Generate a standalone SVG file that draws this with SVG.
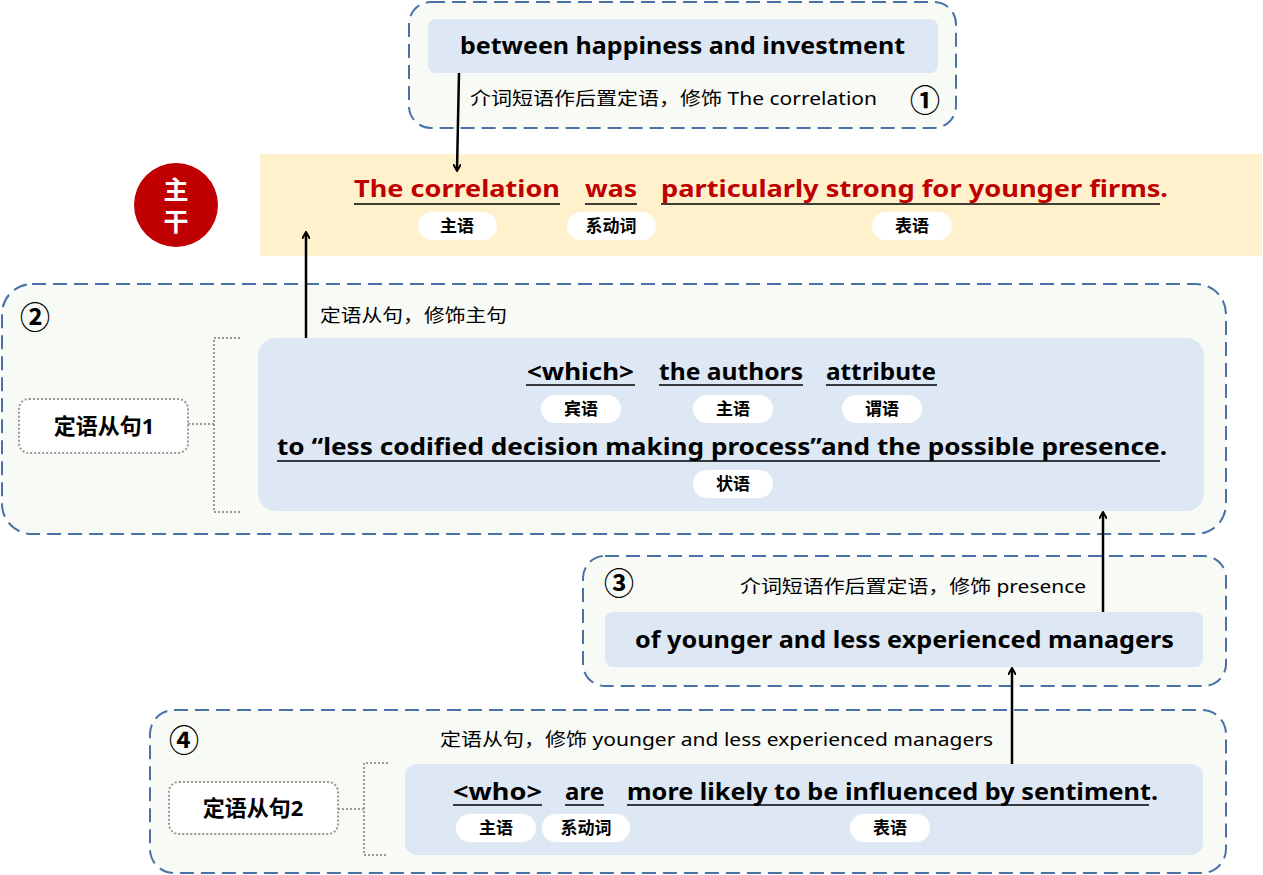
<svg xmlns="http://www.w3.org/2000/svg" width="1263" height="875" viewBox="0 0 1263 875">
<defs>
<style>
text{font-family:"Noto Sans","Noto Sans CJK SC",sans-serif;fill:#000}
.grp{fill:#f8faf5;stroke:#4a72a6;stroke-width:2;stroke-dasharray:14 7}
.blue{fill:#dee8f4}
.b{font-weight:bold;font-size:23px}
.lab{font-size:18px}
.pill{fill:#fff}
.pt{font-size:17px;font-weight:bold;text-anchor:middle}
.ul{stroke:#000;stroke-width:1.5}
.dot{fill:none;stroke:#999;stroke-width:2;stroke-dasharray:2 2}
.num{font-size:30px;font-weight:bold;text-anchor:middle}
.arr{stroke:#000;stroke-width:2.5;marker-end:url(#ah)}
</style>
<marker id="ah" markerWidth="8" markerHeight="8" refX="6" refY="4" orient="auto" markerUnits="userSpaceOnUse" viewBox="0 0 8 8"><path d="M0,0 L7,4 L0,8" fill="none" stroke="#000" stroke-width="2"/></marker>
</defs>
<g id="n1">
<rect class="grp" x="409" y="2" width="547" height="126" rx="22"/>
<rect class="blue" x="428" y="19" width="510" height="54" rx="8"/>
<text class="b" x="460" y="54" textLength="445" lengthAdjust="spacingAndGlyphs">between happiness and investment</text>
<text class="lab" x="470" y="105" textLength="407" lengthAdjust="spacingAndGlyphs">介词短语作后置定语，修饰 The correlation</text>
<text class="num" x="925" y="111">①</text>
</g>
<g id="main">
<rect x="260" y="154" width="1002" height="102" fill="#fff1cc"/>
<circle cx="176" cy="205" r="42" fill="#c00000"/>
<text x="176" y="199" font-size="25" font-weight="bold" text-anchor="middle" style="fill:#fff">主</text>
<text x="176" y="231" font-size="25" font-weight="bold" text-anchor="middle" style="fill:#fff">干</text>
<text x="354" y="197" font-size="24" font-weight="bold" style="fill:#c00000" textLength="206" lengthAdjust="spacingAndGlyphs">The correlation</text>
<text x="585" y="197" font-size="24" font-weight="bold" style="fill:#c00000" textLength="52" lengthAdjust="spacingAndGlyphs">was</text>
<text x="661" y="197" font-size="24" font-weight="bold" style="fill:#c00000" textLength="507" lengthAdjust="spacingAndGlyphs">particularly strong for younger firms.</text>
<line class="ul" x1="354" y1="204" x2="560" y2="204"/>
<line class="ul" x1="585" y1="204" x2="637" y2="204"/>
<line class="ul" x1="661" y1="204" x2="1160" y2="204"/>
<rect class="pill" x="418" y="212" width="79" height="28" rx="14"/><text class="pt" x="457" y="232">主语</text>
<rect class="pill" x="567" y="212" width="89" height="28" rx="14"/><text class="pt" x="611" y="232">系动词</text>
<rect class="pill" x="872" y="212" width="80" height="28" rx="14"/><text class="pt" x="912" y="232">表语</text>
</g>
<g id="n2">
<rect class="grp" x="2" y="284" width="1224" height="250" rx="30"/>
<text class="num" x="35" y="328">②</text>
<text class="lab" x="320" y="322" textLength="187" lengthAdjust="spacingAndGlyphs">定语从句，修饰主句</text>
<rect x="19" y="399" width="169" height="54" rx="10" fill="#fff" stroke="#999" stroke-width="2" stroke-dasharray="2 2"/>
<text x="104" y="434" font-size="22" font-weight="bold" text-anchor="middle">定语从句1</text>
<path class="dot" d="M188,424 H214 M240,338 H214 V512 H240"/>
<rect class="blue" x="258" y="338" width="946" height="173" rx="18"/>
<text class="b" x="527" y="380" textLength="107" lengthAdjust="spacingAndGlyphs">&lt;which&gt;</text>
<text class="b" x="659" y="380" textLength="144" lengthAdjust="spacingAndGlyphs">the authors</text>
<text class="b" x="826" y="380" textLength="110" lengthAdjust="spacingAndGlyphs">attribute</text>
<line class="ul" x1="526" y1="385" x2="635" y2="385"/>
<line class="ul" x1="659" y1="385" x2="803" y2="385"/>
<line class="ul" x1="826" y1="385" x2="937" y2="385"/>
<rect class="pill" x="541" y="395" width="80" height="28" rx="14"/><text class="pt" x="581" y="415">宾语</text>
<rect class="pill" x="693" y="395" width="80" height="28" rx="14"/><text class="pt" x="733" y="415">主语</text>
<rect class="pill" x="842" y="395" width="80" height="28" rx="14"/><text class="pt" x="882" y="415">谓语</text>
<text class="b" x="277" y="455" textLength="890" lengthAdjust="spacingAndGlyphs">to  “less codified decision making process”and the possible presence.</text>
<line class="ul" x1="277" y1="461" x2="1160" y2="461"/>
<rect class="pill" x="693" y="470" width="80" height="28" rx="14"/><text class="pt" x="733" y="490">状语</text>
</g>
<g id="n3">
<rect class="grp" x="583" y="556" width="643" height="130" rx="22"/>
<text class="num" x="619" y="594">③</text>
<text class="lab" x="740" y="593" textLength="346" lengthAdjust="spacingAndGlyphs">介词短语作后置定语，修饰 presence</text>
<rect class="blue" x="605" y="612" width="598" height="55" rx="8"/>
<text class="b" x="635" y="648" textLength="539" lengthAdjust="spacingAndGlyphs">of younger and less experienced managers</text>
</g>
<g id="n4">
<rect class="grp" x="150" y="710" width="1076" height="163" rx="24"/>
<text class="num" x="184" y="751">④</text>
<text class="lab" x="440" y="746" textLength="553" lengthAdjust="spacingAndGlyphs">定语从句，修饰 younger and less experienced managers</text>
<rect x="169" y="782" width="169" height="52" rx="10" fill="#fff" stroke="#999" stroke-width="2" stroke-dasharray="2 2"/>
<text x="253" y="816" font-size="22" font-weight="bold" text-anchor="middle">定语从句2</text>
<path class="dot" d="M338,809 H364 M388,763 H364 V855 H388"/>
<rect class="blue" x="405" y="764" width="798" height="91" rx="12"/>
<text class="b" x="453" y="800" textLength="89" lengthAdjust="spacingAndGlyphs">&lt;who&gt;</text>
<text class="b" x="565" y="800" textLength="39" lengthAdjust="spacingAndGlyphs">are</text>
<text class="b" x="627" y="800" textLength="531" lengthAdjust="spacingAndGlyphs">more likely to be influenced by sentiment.</text>
<line class="ul" x1="453" y1="805" x2="542" y2="805"/>
<line class="ul" x1="565" y1="805" x2="604" y2="805"/>
<line class="ul" x1="627" y1="805" x2="1149" y2="805"/>
<rect class="pill" x="456" y="814" width="80" height="28" rx="14"/><text class="pt" x="496" y="834">主语</text>
<rect class="pill" x="542" y="814" width="88" height="28" rx="14"/><text class="pt" x="586" y="834">系动词</text>
<rect class="pill" x="850" y="814" width="80" height="28" rx="14"/><text class="pt" x="890" y="834">表语</text>
</g>
<g id="connectors">
<line class="arr" x1="459" y1="73" x2="457" y2="170"/>
<line class="arr" x1="306" y1="338" x2="306" y2="233"/>
<line class="arr" x1="1103" y1="612" x2="1103" y2="513"/>
<line class="arr" x1="1012" y1="764" x2="1012" y2="669"/>
</g>
</svg>
